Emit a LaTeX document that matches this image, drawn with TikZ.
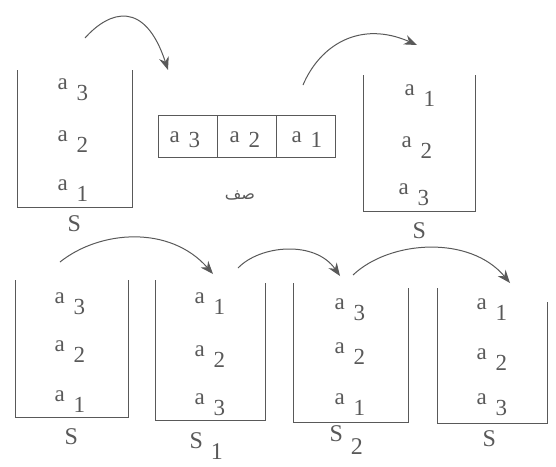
\documentclass[tikz,border=0pt]{standalone}
\usepackage{fontspec}
\setmainfont{Liberation Serif}
\newfontfamily\arabicfont[Script=Arabic]{DejaVu Sans}
\TeXXeTstate=1
\usetikzlibrary{arrows.meta}
\definecolor{ink}{gray}{0.35}
% element with its index set low beside it
\newcommand{\elem}[2][-11pt]{a\hspace{9pt}\raisebox{#1}{#2}}

\begin{document}
\begin{tikzpicture}[x=1pt,y=-1pt,ink,line width=1pt,
  lbl/.style={anchor=base west,inner sep=0pt,font=\fontsize{23}{26}\selectfont},
  stackname/.style={anchor=base west,inner sep=0pt,font=\fontsize{24}{28}\selectfont},
  cell/.style={draw,minimum width=59pt,minimum height=42pt,inner sep=0pt},
  move/.style={-{Stealth[length=13pt,width=10pt]},line width=1pt}]
\useasboundingbox (0,0) rectangle (556,466);

% first stack S
\draw (17,70) |- (132,207) -- (132,70);
\node[lbl] (sa3) at (57,89) {\elem{3}};
\node[lbl] (sa2) at (57,141) {\elem{2}};
\node[lbl] (sa1) at (57,190) {\elem{1}};
\node[stackname] (s) at (67,231) {S};

% queue
\node[cell] (q3) at (187.5,136) {};
\node[cell] (q2) at (246.5,136) {};
\node[cell] (q1) at (305.5,136) {};
\node[lbl] (qa3) at (169,142) {\elem[-5pt]{3}};
\node[lbl] (qa2) at (229,142) {\elem[-5pt]{2}};
\node[lbl] (qa1) at (291,142) {\elem[-5pt]{1}};
\node[font=\arabicfont\fontsize{16}{18}\selectfont] (qname) at (240,196) {\beginR صف\endR};

% stack S after the queue
\draw (363,75) |- (475,211) -- (475,75);
\node[lbl] (ta1) at (404,95) {\elem{1}};
\node[lbl] (ta2) at (401,147) {\elem{2}};
\node[lbl] (ta3) at (398,194) {\elem{3}};
\node[stackname] (t) at (412,238) {S};

\coordinate (m1a) at (85,38);
\coordinate (m1b) at (168,70);
\coordinate (m2a) at (303,85);
\coordinate (m2b) at (417,45);
\draw[move] (m1a) .. controls (110,10) and (145,0) .. (m1b);
\draw[move] (m2a) .. controls (320,45) and (360,20) .. (m2b);

% second row: S, S1, S2, S
\draw (15,280) |- (128,417) -- (128,280);
\node[lbl] (ba3) at (54,303) {\elem{3}};
\node[lbl] (ba2) at (54,351) {\elem{2}};
\node[lbl] (ba1) at (54,401) {\elem{1}};
\node[stackname] (b) at (64,444) {S};

\draw (155,280) |- (265,420) -- (265,283);
\node[lbl] (ca1) at (194,303) {\elem{1}};
\node[lbl] (ca2) at (194,356) {\elem{2}};
\node[lbl] (ca3) at (194,404) {\elem{3}};
\node[stackname] (c) at (189,448) {S\hspace{8pt}\raisebox{-11pt}{1}};

\draw (293,283) |- (408,422) -- (408,288);
\node[lbl] (da3) at (334,309) {\elem{3}};
\node[lbl] (da2) at (334,353) {\elem{2}};
\node[lbl] (da1) at (334,404) {\elem{1}};
\node[stackname] (d) at (329,441) {S\hspace{8pt}\raisebox{-13pt}{2}};

\draw (437,288) |- (547,423) -- (547,302);
\node[lbl] (ea1) at (476,309) {\elem{1}};
\node[lbl] (ea2) at (476,359) {\elem{2}};
\node[lbl] (ea3) at (476,404) {\elem{3}};
\node[stackname] (e) at (482,446) {S};

\coordinate (m3a) at (60,262);
\coordinate (m3b) at (213,274);
\coordinate (m4a) at (238,268);
\coordinate (m4b) at (340,276);
\coordinate (m5a) at (353,275);
\coordinate (m5b) at (510,283);
\draw[move] (m3a) .. controls (100,230) and (170,225) .. (m3b);
\draw[move] (m4a) .. controls (260,245) and (315,240) .. (m4b);
\draw[move] (m5a) .. controls (390,240) and (470,235) .. (m5b);
\end{tikzpicture}
\end{document}
